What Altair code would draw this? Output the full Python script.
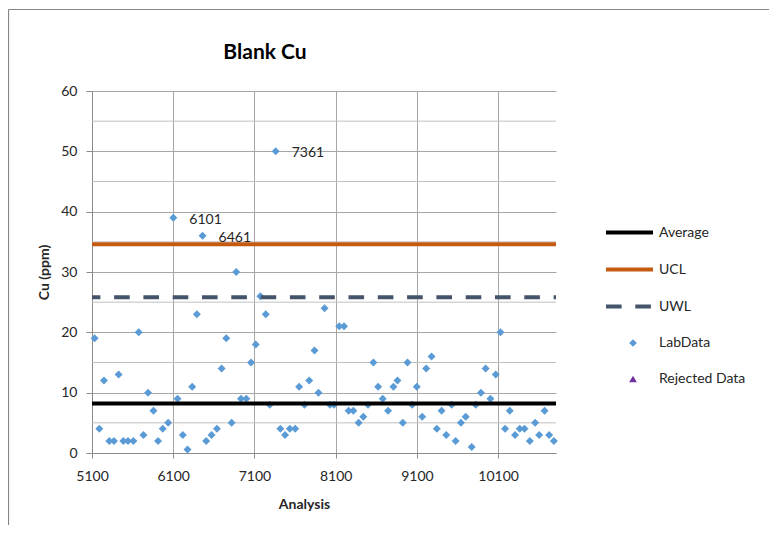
import altair as alt
import pandas as pd

# ---- data ----
analysis = [5132, 5190, 5247, 5313, 5370, 5428, 5486, 5543, 5609, 5675,
            5733, 5790, 5856, 5913, 5971, 6037, 6101, 6153, 6218, 6276,
            6333, 6391, 6461, 6506, 6572, 6638, 6696, 6753, 6819, 6876,
            6934, 7000, 7058, 7116, 7172, 7239, 7288, 7361, 7419, 7477,
            7535, 7601, 7650, 7716, 7774, 7839, 7888, 7963, 8029, 8079,
            8144, 8202, 8259, 8317, 8382, 8440, 8498, 8564, 8622, 8679,
            8745, 8811, 8860, 8926, 8984, 9042, 9098, 9165, 9214, 9280,
            9345, 9403, 9461, 9527, 9576, 9642, 9700, 9774, 9823, 9888,
            9946, 10005, 10070, 10128, 10185, 10243, 10308, 10366, 10424, 10490,
            10555, 10605, 10671, 10728, 10786]
cu_ppm = [19, 4, 12, 2, 2, 13, 2, 2, 2, 20,
          3, 10, 7, 2, 4, 5, 39, 9, 3, 0.6,
          11, 23, 36, 2, 3, 4, 14, 19, 5, 30,
          9, 9, 15, 18, 26, 23, 8, 50, 4, 3,
          4, 4, 11, 8, 12, 17, 10, 24, 8, 8,
          21, 21, 7, 7, 5, 6, 8, 15, 11, 9,
          7, 11, 12, 5, 15, 8, 11, 6, 14, 16,
          4, 7, 3, 8, 2, 5, 6, 1, 8, 10,
          14, 9, 13, 20, 4, 7, 3, 4, 4, 2,
          5, 3, 7, 3, 2]

labelled_ids = [6101, 6461, 7361]

limit_names = ["Average", "UCL", "UWL"]
limit_values = [8.2, 34.6, 25.8]
limit_colors = ["#000000", "#C55A11", "#44546A"]
limit_dashes = [[1, 0], [1, 0], [15.6, 13.7]]

point_names = ["LabData", "Rejected Data"]
point_colors = ["#5B9BD5", "#7030A0"]
point_shapes = ["diamond", "triangle-up"]

y_ticks = [0, 10, 20, 30, 40, 50, 60]
y_grid_minor = [5, 15, 25, 35, 45, 55]
x_ticks = [5100, 6100, 7100, 8100, 9100, 10100]
x_domain = [5100, 10812]

FONT = "Lato"
TXT = "#262626"

lab = pd.DataFrame({"Analysis": analysis, "Cu": cu_ppm, "kind": "LabData"})
lab["label"] = [str(a) if a in labelled_ids else "" for a in analysis]
limits = pd.DataFrame({"limit": limit_names, "Cu": limit_values})
minor = pd.DataFrame({"Cu": y_grid_minor})
frame = pd.DataFrame({"edge": ["frame"]})

x_enc = alt.X("Analysis:Q", scale=alt.Scale(domain=x_domain, nice=False, zero=False),
              axis=alt.Axis(values=x_ticks, format="d", title="Analysis",
                            grid=True, gridColor="#A6A6A6", gridWidth=1,
                            domainColor="#8C8C8C", tickColor="#8C8C8C", tickSize=5,
                            labelFlush=False,
                            labelFont=FONT, labelFontSize=14, labelColor=TXT,
                            labelPadding=11, titleFont=FONT, titleFontSize=14,
                            titleFontWeight="bold", titleColor=TXT,
                            titleX=212, titleY=51, titleAlign="center",
                            titleBaseline="middle"))
y_enc = alt.Y("Cu:Q", scale=alt.Scale(domain=[0, 60], nice=False),
              axis=alt.Axis(values=y_ticks, title="Cu (ppm)",
                            grid=True, gridColor="#A6A6A6", gridWidth=1,
                            domainColor="#8C8C8C", tickColor="#8C8C8C", tickSize=6,
                            labelFont=FONT, labelFontSize=14, labelColor=TXT,
                            labelPadding=9, titleFont=FONT, titleFontSize=14,
                            titleFontWeight="bold", titleColor=TXT,
                            titleX=-48, titleY=181, titleAngle=270,
                            titleAlign="center", titleBaseline="middle"))

minor_rules = alt.Chart(minor).mark_rule(color="#C0C0C0", strokeWidth=1).encode(
    y=alt.Y("Cu:Q", scale=alt.Scale(domain=[0, 60], nice=False))
)

# chart-area frame (left and top edges, as in the cropped original)
frame_left = alt.Chart(frame).mark_rule(color="#868686", strokeWidth=1.2, clip=False).encode(
    x=alt.value(-83.5), y=alt.value(-81.5), y2=alt.value(434)
)
frame_top = alt.Chart(frame).mark_rule(color="#868686", strokeWidth=1.2, clip=False).encode(
    x=alt.value(-83.5), x2=alt.value(677), y=alt.value(-81.5)
)

line_legend = alt.Legend(
    title=None, orient="none", legendX=512, legendY=116,
    labelFont=FONT, labelFontSize=14, labelColor=TXT, labelOffset=4,
    symbolType="stroke", symbolSize=2209, symbolStrokeWidth=4, rowPadding=3,
)
point_legend = alt.Legend(
    title=None, orient="none", legendX=512, legendY=245,
    labelFont=FONT, labelFontSize=14, labelColor=TXT, labelOffset=19,
    symbolSize=60, symbolStrokeWidth=0, symbolOpacity=1, rowPadding=22,
    symbolOffset=22,
)

limit_rules = alt.Chart(limits).mark_rule(strokeWidth=4, strokeDashOffset=7.2).encode(
    x=alt.datum(x_domain[0]),
    x2=alt.datum(x_domain[1]),
    y=alt.Y("Cu:Q"),
    stroke=alt.Stroke("limit:N", scale=alt.Scale(domain=limit_names, range=limit_colors),
                      legend=line_legend),
    strokeDash=alt.StrokeDash("limit:N", scale=alt.Scale(domain=limit_names, range=limit_dashes),
                              legend=line_legend),
)

points = alt.Chart(lab).mark_point(filled=True, size=64, opacity=1).encode(
    x=x_enc,
    y=y_enc,
    fill=alt.Fill("kind:N", scale=alt.Scale(domain=point_names, range=point_colors),
                  legend=point_legend),
    shape=alt.Shape("kind:N", scale=alt.Scale(domain=point_names, range=point_shapes),
                    legend=point_legend),
)

labels = alt.Chart(lab).mark_text(align="left", baseline="middle", dx=16, dy=2,
                                  font=FONT, fontSize=14, color=TXT).encode(
    x="Analysis:Q", y="Cu:Q", text="label:N"
)

chart = alt.layer(minor_rules, points, limit_rules, labels, frame_left, frame_top).properties(
    width=464, height=362,
    autosize=alt.AutoSizeParams(type="none"),
    padding={"left": 84, "top": 83, "right": 213, "bottom": 72},
    title=alt.TitleParams("Blank Cu", font=FONT, fontSize=21, fontWeight="bold",
                          color="#000000", anchor="middle", frame="group",
                          dx=-59, offset=-54),
).configure_view(stroke=None)

chart.save("out.html", embed_options={"renderer": "svg", "actions": False})
